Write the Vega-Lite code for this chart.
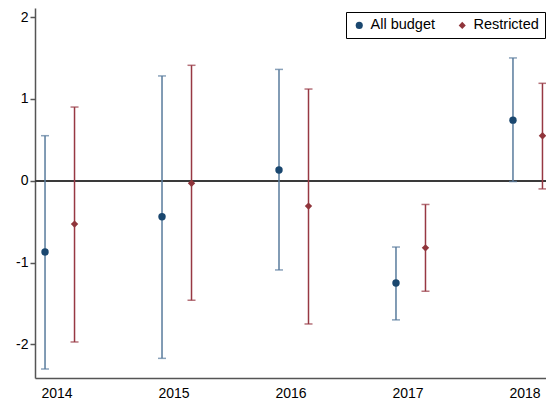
{
  "$schema": "https://vega.github.io/schema/vega-lite/v6.json",
  "width": 511,
  "height": 370,
  "autosize": "none",
  "padding": {"left": 35, "top": 8, "right": 0, "bottom": 22},
  "background": "white",
  "config": {
    "view": {"stroke": null},
    "font": "Liberation Sans",
    "axis": {"labelFont": "Liberation Sans", "labelColor": "black", "labelFontSize": 14, "domainColor": "#555", "domainWidth": 1.5, "tickColor": "#555", "tickWidth": 1.5, "grid": false, "title": null},
    "legend": {"labelFont": "Liberation Sans"}
  },
  "data": {
    "values": [
      {"year": "2014", "group": "All budget", "est": -0.87, "lo": -2.30, "hi": 0.55},
      {"year": "2014", "group": "Restricted", "est": -0.53, "lo": -1.97, "hi": 0.90},
      {"year": "2015", "group": "All budget", "est": -0.44, "lo": -2.17, "hi": 1.28},
      {"year": "2015", "group": "Restricted", "est": -0.03, "lo": -1.46, "hi": 1.41},
      {"year": "2016", "group": "All budget", "est": 0.13, "lo": -1.09, "hi": 1.36},
      {"year": "2016", "group": "Restricted", "est": -0.31, "lo": -1.75, "hi": 1.12},
      {"year": "2017", "group": "All budget", "est": -1.25, "lo": -1.70, "hi": -0.81},
      {"year": "2017", "group": "Restricted", "est": -0.82, "lo": -1.35, "hi": -0.29},
      {"year": "2018", "group": "All budget", "est": 0.74, "lo": -0.01, "hi": 1.50},
      {"year": "2018", "group": "Restricted", "est": 0.55, "lo": -0.10, "hi": 1.19}
    ]
  },
  "encoding": {
    "x": {
      "field": "year",
      "type": "ordinal",
      "scale": {"type": "point", "padding": 0.184},
      "axis": {"labelAngle": 0, "ticks": false, "labelPadding": 8}
    },
    "xOffset": {
      "field": "group",
      "type": "nominal",
      "scale": {"type": "point", "padding": 0, "domain": ["All budget", "Restricted"], "range": [-11.5, 18]}
    }
  },
  "layer": [
    {
      "mark": {"type": "rule", "color": "#3a3a3a", "strokeWidth": 1.5},
      "encoding": {
        "x": null,
        "xOffset": null,
        "y": {"datum": 0, "type": "quantitative"}
      }
    },
    {
      "mark": {"type": "rule", "strokeWidth": 1.5},
      "encoding": {
        "y": {
          "field": "lo",
          "type": "quantitative",
          "scale": {"domain": [-2.41, 2.11], "nice": false, "zero": false},
          "axis": {"values": [-2, -1, 0, 1, 2], "tickSize": 5, "labelPadding": 2, "labelExpr": "'' + datum.value"}
        },
        "y2": {"field": "hi"},
        "color": {"condition": {"test": "datum.group == 'All budget'", "value": "#587b9c"}, "value": "#973843"}
      }
    },
    {
      "mark": {"type": "tick", "orient": "horizontal", "size": 8, "thickness": 1.5},
      "encoding": {
        "y": {"field": "lo", "type": "quantitative"},
        "color": {"condition": {"test": "datum.group == 'All budget'", "value": "#587b9c"}, "value": "#973843"}
      }
    },
    {
      "mark": {"type": "tick", "orient": "horizontal", "size": 8, "thickness": 1.5},
      "encoding": {
        "y": {"field": "hi", "type": "quantitative"},
        "color": {"condition": {"test": "datum.group == 'All budget'", "value": "#587b9c"}, "value": "#973843"}
      }
    },
    {
      "mark": {"type": "point", "filled": true, "opacity": 1, "size": 55, "strokeWidth": 0},
      "encoding": {
        "y": {"field": "est", "type": "quantitative"},
        "shape": {
          "field": "group",
          "type": "nominal",
          "scale": {"domain": ["All budget", "Restricted"], "range": ["circle", "diamond"]}
        },
        "color": {
          "field": "group",
          "type": "nominal",
          "scale": {"domain": ["All budget", "Restricted"], "range": ["#1a476f", "#90353b"]},
          "legend": {
            "title": null,
            "orient": "none",
            "legendX": 311,
            "legendY": 4,
            "direction": "horizontal",
            "strokeColor": "black",
            "fillColor": "white",
            "padding": 6,
            "labelFontSize": 14.5,
            "labelColor": "black",
            "symbolSize": 50,
            "columnPadding": 20
          }
        }
      }
    }
  ]
}
